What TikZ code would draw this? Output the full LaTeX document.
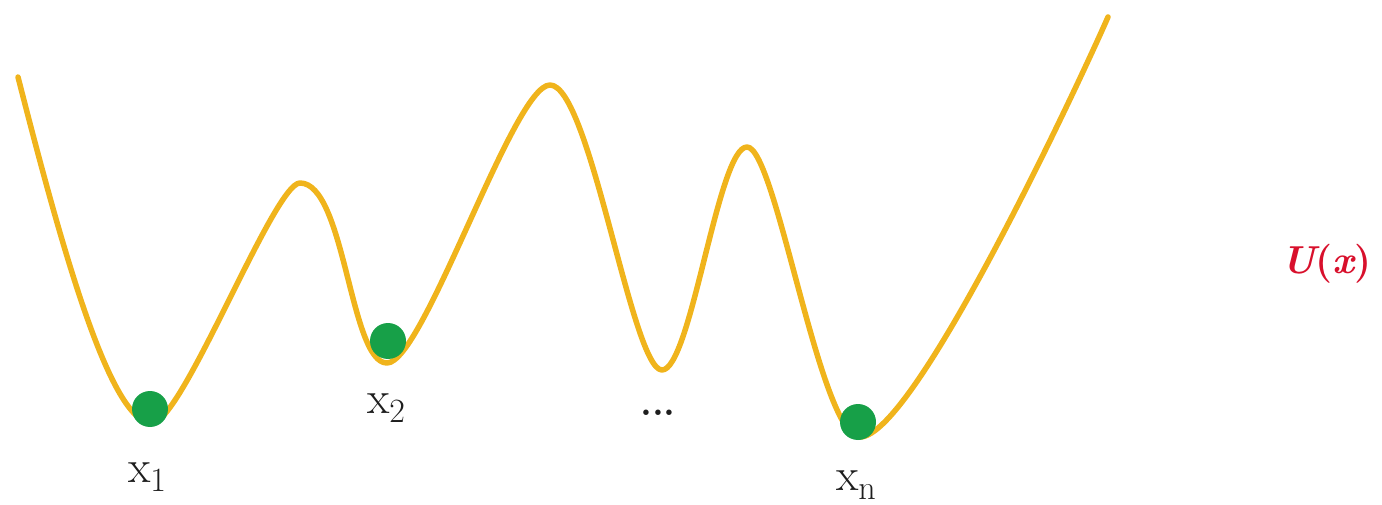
\documentclass[tikz,border=0pt]{standalone}
\usepackage{fontspec}
\definecolor{curvegold}{HTML}{F0B41C}
\definecolor{ballgreen}{HTML}{17A048}
\definecolor{ured}{HTML}{D8102C}
\definecolor{inkdark}{HTML}{1E1E1E}
\newcommand\subidx[1]{\raisebox{-9pt}{\fontsize{34}{36}\selectfont #1}}
\begin{document}
\begin{tikzpicture}[x=1pt,y=-1pt,
  curve/.style={draw=curvegold,line width=5.5pt,line cap=round,line join=round},
  ball/.style={circle,fill=ballgreen,inner sep=0pt,minimum size=36pt},
  lbl/.style={anchor=base,inner sep=0pt,text=inkdark,font=\fontsize{46}{50}\selectfont},
  ulbl/.style={anchor=base west,inner sep=0pt,text=ured,font=\fontsize{39}{44}\selectfont\bfseries}]
\useasboundingbox (0,0) rectangle (1382,505);
\draw[curve] (18,77) .. controls (66,265) and (112,423) .. (152,423)
 .. controls (182,423) and (274,183) .. (300,183)
 .. controls (345,183) and (350,363) .. (387,363)
 .. controls (423.5,363) and (513.5,85) .. (550,85)
 .. controls (590,85) and (632,370) .. (662,370)
 .. controls (691,370) and (718,147) .. (747,147)
 .. controls (776,147) and (820,437) .. (860,437)
 .. controls (915,437) and (1084,72) .. (1108,17);
\node[ball] (b1) at (150,409) {};
\node[ball] (b2) at (388,341) {};
\node[ball] (bn) at (858,422) {};
\node[lbl] (l1) at (147,482) {x\subidx{1}};
\node[lbl] (l2) at (386,413) {x\subidx{2}};
\node[lbl,font=\fontsize{38}{40}\selectfont\bfseries] (ld) at (658,415) {...};
\node[lbl] (ln) at (856,490) {x\subidx{n}};
\node[ulbl] (u) at (1281,273) {\itshape U\upshape(\itshape x\upshape)};
\end{tikzpicture}
\end{document}
